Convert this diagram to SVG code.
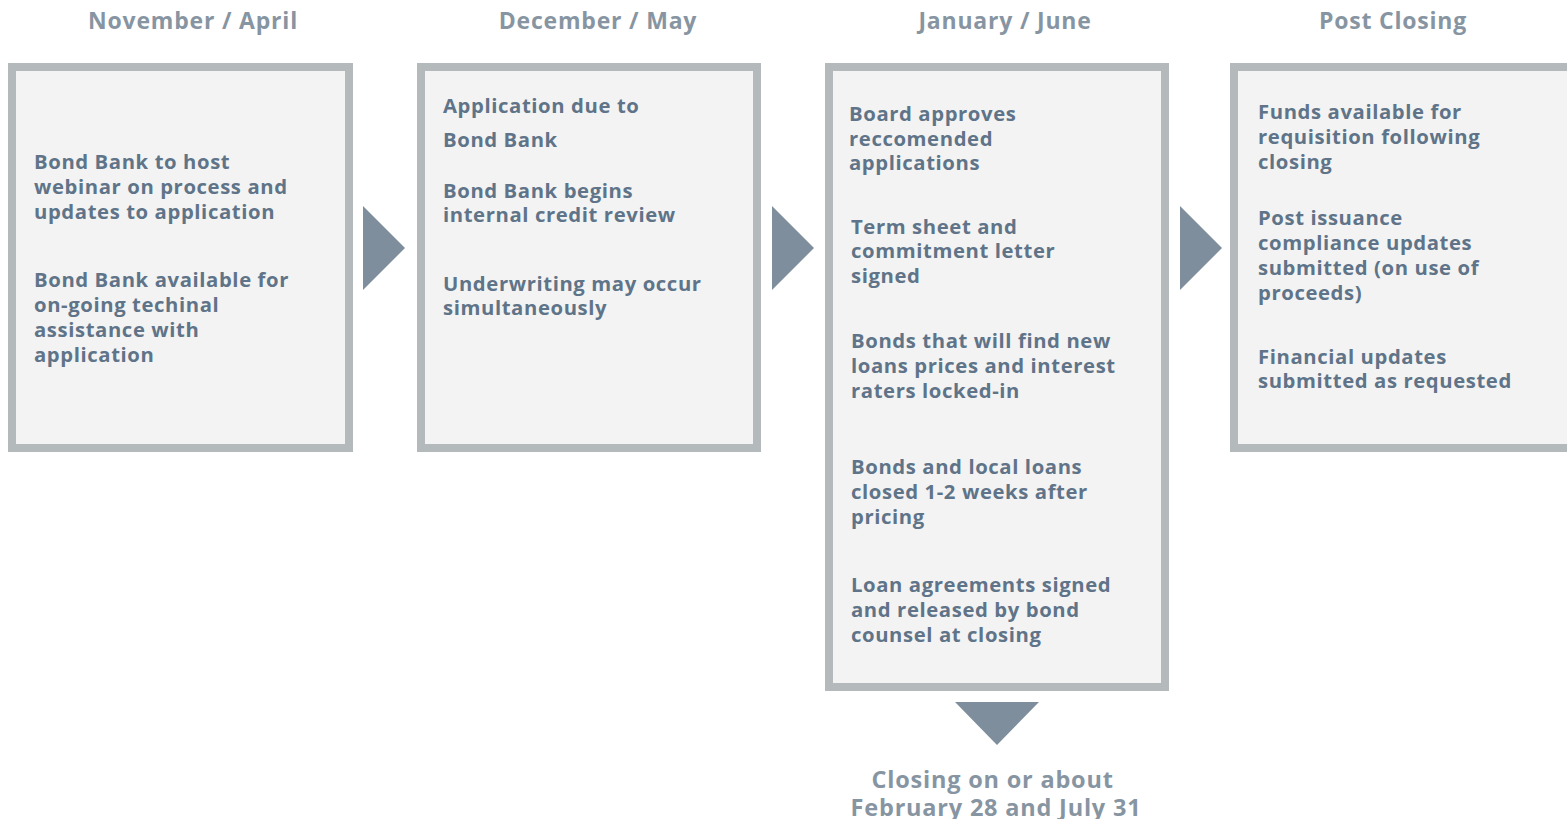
<svg xmlns="http://www.w3.org/2000/svg" width="1567" height="819" viewBox="0 0 1567 819">
  <style>
    .box { fill: #f3f3f3; stroke: #b4b9bc; stroke-width: 8; }
    .head { font-family: "Open Sans", "Noto Sans", sans-serif; font-weight: 700; font-size: 23px; letter-spacing: 0.8px; fill: #8795a2; text-anchor: middle; }
    .body { font-family: "Open Sans", "Noto Sans", sans-serif; font-weight: 700; font-size: 20.3px; letter-spacing: 0.6px; fill: #5f7488; }
    .arrow { fill: #7f8e9c; }
  </style>
  <rect width="1567" height="819" fill="#ffffff"/>

  <!-- column headings -->
  <g id="headings">
    <text class="head" x="193" y="29">November / April</text>
    <text class="head" x="598" y="29">December / May</text>
    <text class="head" x="1005" y="29">January / June</text>
    <text class="head" x="1393" y="29">Post Closing</text>
  </g>

  <!-- stage 1 -->
  <g id="stage-nov-apr">
    <rect class="box" x="12" y="67" width="337" height="381"/>
    <text class="body" x="34">
      <tspan x="34" y="169">Bond Bank to host</tspan>
      <tspan x="34" y="194">webinar on process and</tspan>
      <tspan x="34" y="219">updates to application</tspan>
      <tspan x="34" y="287">Bond Bank available for</tspan>
      <tspan x="34" y="312">on-going techinal</tspan>
      <tspan x="34" y="337">assistance with</tspan>
      <tspan x="34" y="362">application</tspan>
    </text>
  </g>

  <!-- stage 2 -->
  <g id="stage-dec-may">
    <rect class="box" x="421" y="67" width="336" height="381"/>
    <text class="body">
      <tspan x="443" y="113">Application due to</tspan>
      <tspan x="443" y="147">Bond Bank</tspan>
      <tspan x="443" y="198">Bond Bank begins</tspan>
      <tspan x="443" y="222">internal credit review</tspan>
      <tspan x="443" y="291">Underwriting may occur</tspan>
      <tspan x="443" y="315">simultaneously</tspan>
    </text>
  </g>

  <!-- stage 3 -->
  <g id="stage-jan-jun">
    <rect class="box" x="829" y="67" width="336" height="620"/>
    <text class="body">
      <tspan x="849" y="121">Board approves</tspan>
      <tspan x="849" y="146">reccomended</tspan>
      <tspan x="849" y="170">applications</tspan>
      <tspan x="851" y="234">Term sheet and</tspan>
      <tspan x="851" y="258">commitment letter</tspan>
      <tspan x="851" y="283">signed</tspan>
      <tspan x="851" y="348">Bonds that will find new</tspan>
      <tspan x="851" y="373">loans prices and interest</tspan>
      <tspan x="851" y="398">raters locked-in</tspan>
      <tspan x="851" y="474">Bonds and local loans</tspan>
      <tspan x="851" y="499">closed 1-2 weeks after</tspan>
      <tspan x="851" y="524">pricing</tspan>
      <tspan x="851" y="592">Loan agreements signed</tspan>
      <tspan x="851" y="617">and released by bond</tspan>
      <tspan x="851" y="642">counsel at closing</tspan>
    </text>
  </g>

  <!-- stage 4 -->
  <g id="stage-post-closing">
    <rect class="box" x="1234" y="67" width="345" height="381"/>
    <text class="body">
      <tspan x="1258" y="119">Funds available for</tspan>
      <tspan x="1258" y="144">requisition following</tspan>
      <tspan x="1258" y="169">closing</tspan>
      <tspan x="1258" y="225">Post issuance</tspan>
      <tspan x="1258" y="250">compliance updates</tspan>
      <tspan x="1258" y="275">submitted (on use of</tspan>
      <tspan x="1258" y="300">proceeds)</tspan>
      <tspan x="1258" y="364">Financial updates</tspan>
      <tspan x="1258" y="388">submitted as requested</tspan>
    </text>
  </g>

  <!-- closing note -->
  <g id="closing-note">
    <text class="head" style="font-size:23.5px">
      <tspan x="996" y="788">Closing on or about</tspan>
      <tspan x="996" y="816">February 28 and July 31</tspan>
    </text>
  </g>

  <!-- connectors between stages -->
  <g id="connectors">
    <polygon class="arrow" points="363,206 405,248 363,290"/>
    <polygon class="arrow" points="772,206 814,248 772,290"/>
    <polygon class="arrow" points="1180,206 1222,248 1180,290"/>
    <polygon class="arrow" points="955,702 1039,702 997,745"/>
  </g>
</svg>
